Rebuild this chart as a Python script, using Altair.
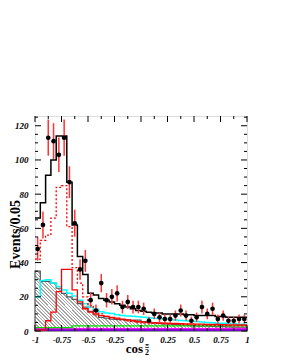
import altair as alt
import pandas as pd

# ---- data (40 bins of width 0.05 on [-1, 1]) ----
edges = [round(-1 + 0.05 * i, 2) for i in range(41)]
centers = [round(-0.975 + 0.05 * i, 3) for i in range(40)]

data_n = [48, 62, 113, 111, 103, 113, 87, 63, 36, 41, 18, 12, 28, 18, 20, 22, 14, 17, 14, 14,
          13, 6, 10, 8, 7, 7, 9, 12, 9, 6, 8, 14, 10, 13, 7, 9, 6, 6, 7, 7]
data_err = [6.9, 7.9, 10.6, 10.5, 10.1, 10.6, 9.3, 7.9, 6.0, 6.4, 4.2, 3.5, 5.3, 4.2, 4.5, 4.7, 3.7, 4.1, 3.7, 3.7,
            3.6, 2.4, 3.2, 2.8, 2.6, 2.6, 3.0, 3.5, 3.0, 2.4, 2.8, 3.7, 3.2, 3.6, 2.6, 3.0, 2.4, 2.4, 2.6, 2.6]

total = [66, 75, 91, 100, 114, 114, 87, 62, 43.5, 33, 22, 21, 19, 18, 17, 16, 15, 14, 13, 12,
         11.5, 11, 10.5, 10.5, 10, 10, 10, 10, 9.5, 9.5, 9, 9, 9, 9, 8.5, 8.5, 8, 8, 8, 8]
red_dotted = [42, 53, 56, 66, 84, 85, 61, 37, 28, 20, 15, 12, 10, 8.5, 7.5, 7, 6.5, 6, 5.5, 5,
              4.8, 4.6, 4.5, 4.3, 4.2, 4, 3.9, 3.8, 3.7, 3.6, 3.5, 3.5, 3.4, 3.3, 3.3, 3.2, 3.1, 3, 3, 3]
red_solid = [0.5, 0.5, 6, 11, 23, 36, 36, 24, 17, 13, 11, 10, 9, 8.5, 8, 7.5, 7, 6.5, 6, 5.5,
             5.2, 5, 4.8, 4.7, 4.6, 4.5, 4.4, 4.3, 4.2, 4.1, 4, 4, 3.9, 3.8, 3.8, 3.7, 3.6, 3.6, 3.5, 3.5]
cyan = [20, 29.5, 30, 28, 26, 24, 22, 20.5, 18, 16, 14, 12.7, 11.3, 10.5, 10.3, 9.5, 9, 8.8, 8.6, 8.4,
        8, 7.8, 7.5, 7.3, 7, 6.8, 6.5, 6.2, 6, 5.8, 5.5, 5.3, 5, 4.8, 4.6, 4.5, 4.3, 4.2, 4, 4]
hatched = [35, 29, 29, 28, 25, 22, 20, 18.5, 16, 14, 11.5, 9.5, 8, 7.5, 7, 6.8, 6.6, 6.5, 6.4, 6.3,
           5.5, 5, 4.8, 4.5, 4.2, 4, 3.8, 3.6, 3.4, 3.2, 3, 2.9, 2.8, 2.7, 2.6, 2.5, 2.4, 2.3, 2.2, 2.2]
green = [2, 2, 2, 2, 2, 2, 2, 3, 3, 3, 3, 3, 3, 3, 3, 3, 3, 3, 3, 3,
         3, 3, 3, 3, 3, 3, 3, 3, 3, 3, 3, 3, 3, 3, 3, 3, 3, 3, 3, 3]
magenta = [1.5] * 40
purple = [0.8] * 40
blue = [0.3] * 40

x_major = [-1, -0.75, -0.5, -0.25, 0, 0.25, 0.5, 0.75, 1]
x_minor = [-0.875, -0.625, -0.375, -0.125, 0.125, 0.375, 0.625, 0.875]
y_major = [0, 20, 40, 60, 80, 100, 120]
y_minor = [5, 10, 15, 25, 30, 35, 45, 50, 55, 65, 70, 75, 85, 90, 95, 105, 110, 115, 125]

W, H = 212, 215
FONT = "Liberation Serif"

xscale = alt.Scale(domain=[-1, 1], nice=False, zero=False)
yscale = alt.Scale(domain=[0, 125.7], nice=False, zero=True)

xaxis = alt.Axis(values=x_major, labelExpr="'' + datum.value", title=None, ticks=False,
                 domain=False, grid=False, labelFont=FONT, labelFontStyle="italic",
                 labelFontWeight="bold", labelFontSize=9, labelPadding=4, labelColor="black",
                 labelOverlap=False, labelFlush=False)
yaxis = alt.Axis(values=y_major, labelExpr="'' + datum.value", title="Events/0.05", ticks=False,
                 domain=False, grid=False, labelFont=FONT, labelFontStyle="italic",
                 labelFontWeight="bold", labelFontSize=9, labelPadding=7, labelColor="black",
                 labelOverlap=False, titleFont=FONT, titleFontWeight="bold", titleFontSize=14,
                 titleColor="black", titleAngle=270, titleX=-20, titleY=118,
                 titleAlign="center", titleBaseline="middle")


def X(field="x"):
    return alt.X(f"{field}:Q", scale=xscale, axis=xaxis)


def Y(field="y"):
    return alt.Y(f"{field}:Q", scale=yscale, axis=yaxis)


def step_df(vals):
    return pd.DataFrame({"x": edges, "y": list(vals) + [vals[-1]]})


def step_line(vals, color, width=1.2, dash=None):
    kw = dict(interpolate="step-after", color=color, strokeWidth=width, clip=True)
    if dash:
        kw["strokeDash"] = dash
    return alt.Chart(step_df(vals)).mark_line(**kw).encode(x=X(), y=Y())


# diagonal hatching emulated with a striped linear gradient
n_stripes = 80
stops = []
for k in range(n_stripes):
    a = k / n_stripes
    b = (k + 0.4) / n_stripes
    c = (k + 1) / n_stripes
    stops += [alt.GradientStop(offset=a, color="#a4a4a4"),
              alt.GradientStop(offset=b, color="#a4a4a4"),
              alt.GradientStop(offset=b, color="#ffffff"),
              alt.GradientStop(offset=c, color="#ffffff")]
hatch_fill = alt.LinearGradient(gradient="linear", stops=stops, x1=0, y1=1, x2=1.19, y2=0.667)

hatch_area = alt.Chart(step_df(hatched)).mark_area(
    interpolate="step-after", fill=hatch_fill, stroke="#555555", strokeWidth=1.2
).encode(x=X(), y=Y())

layers = [
    hatch_area,
    step_line(blue, "#0000ff", 1.5),
    step_line(purple, "#9900cc", 2),
    step_line(magenta, "#ff00ff", 1),
    step_line(green, "#00dd00", 1.3),
    step_line(cyan, "#00ffff", 1.5),
    step_line(red_solid, "#ff0000", 1.3),
    step_line(red_dotted, "#ff0000", 1.3, [2, 2]),
    step_line(total, "#000000", 1.5),
]

pts = pd.DataFrame({"x": centers, "n": data_n, "err": data_err})
err_bars = alt.Chart(pts).transform_calculate(
    lo="datum.n - datum.err", hi="datum.n + datum.err"
).mark_rule(color="#ff3333", strokeWidth=1.5).encode(x=X(), y=Y("lo"), y2="hi:Q")
points = alt.Chart(pts).mark_point(filled=True, color="black", size=22, opacity=1).encode(
    x=X(), y=Y("n"))

# inward ticks on all four sides
xmaj = pd.DataFrame({"x": x_major})
xmin = pd.DataFrame({"x": x_minor})
ymaj = pd.DataFrame({"y": y_major})
ymin = pd.DataFrame({"y": y_minor})
tick_col = "black"
ticks = [
    alt.Chart(xmaj).mark_rule(color=tick_col, strokeWidth=1).encode(x=X(), y=alt.value(H), y2=alt.value(H - 6)),
    alt.Chart(xmaj).mark_rule(color=tick_col, strokeWidth=1).encode(x=X(), y=alt.value(0), y2=alt.value(6)),
    alt.Chart(xmin).mark_rule(color=tick_col, strokeWidth=1).encode(x=X(), y=alt.value(H), y2=alt.value(H - 3)),
    alt.Chart(xmin).mark_rule(color=tick_col, strokeWidth=1).encode(x=X(), y=alt.value(0), y2=alt.value(3)),
    alt.Chart(ymaj).mark_rule(color=tick_col, strokeWidth=1).encode(y=Y(), x=alt.value(0), x2=alt.value(6)),
    alt.Chart(ymaj).mark_rule(color=tick_col, strokeWidth=1).encode(y=Y(), x=alt.value(W), x2=alt.value(W - 6)),
    alt.Chart(ymin).mark_rule(color=tick_col, strokeWidth=1).encode(y=Y(), x=alt.value(0), x2=alt.value(3)),
    alt.Chart(ymin).mark_rule(color=tick_col, strokeWidth=1).encode(y=Y(), x=alt.value(W), x2=alt.value(W - 3)),
]

# x-axis title: cos with small Xi superscript and subscript 2
title_parts = pd.DataFrame({"t": ["cos"]})
t_cos = alt.Chart(title_parts).mark_text(
    text="cos", font=FONT, fontWeight="bold", fontSize=13, align="right", baseline="alphabetic",
    color="black").encode(x=alt.value(108), y=alt.value(236.5))
t_xi = alt.Chart(title_parts).mark_text(
    text="Ξ", font=FONT, fontWeight="bold", fontSize=6, align="left", baseline="alphabetic",
    color="black").encode(x=alt.value(110), y=alt.value(231.5))
t_2 = alt.Chart(title_parts).mark_text(
    text="2", font=FONT, fontWeight="bold", fontSize=8, align="left", baseline="alphabetic",
    color="black").encode(x=alt.value(110), y=alt.value(238.5))

chart = alt.layer(*layers, err_bars, points, *ticks, t_cos, t_xi, t_2).properties(
    width=W, height=H,
    autosize=alt.AutoSizeParams(type="none"),
    padding={"left": 27, "top": 108, "right": 14, "bottom": 24},
).configure_view(stroke="black", strokeWidth=1.3).configure(background="white")

chart.save("out.html", embed_options={"renderer": "svg", "actions": False})
